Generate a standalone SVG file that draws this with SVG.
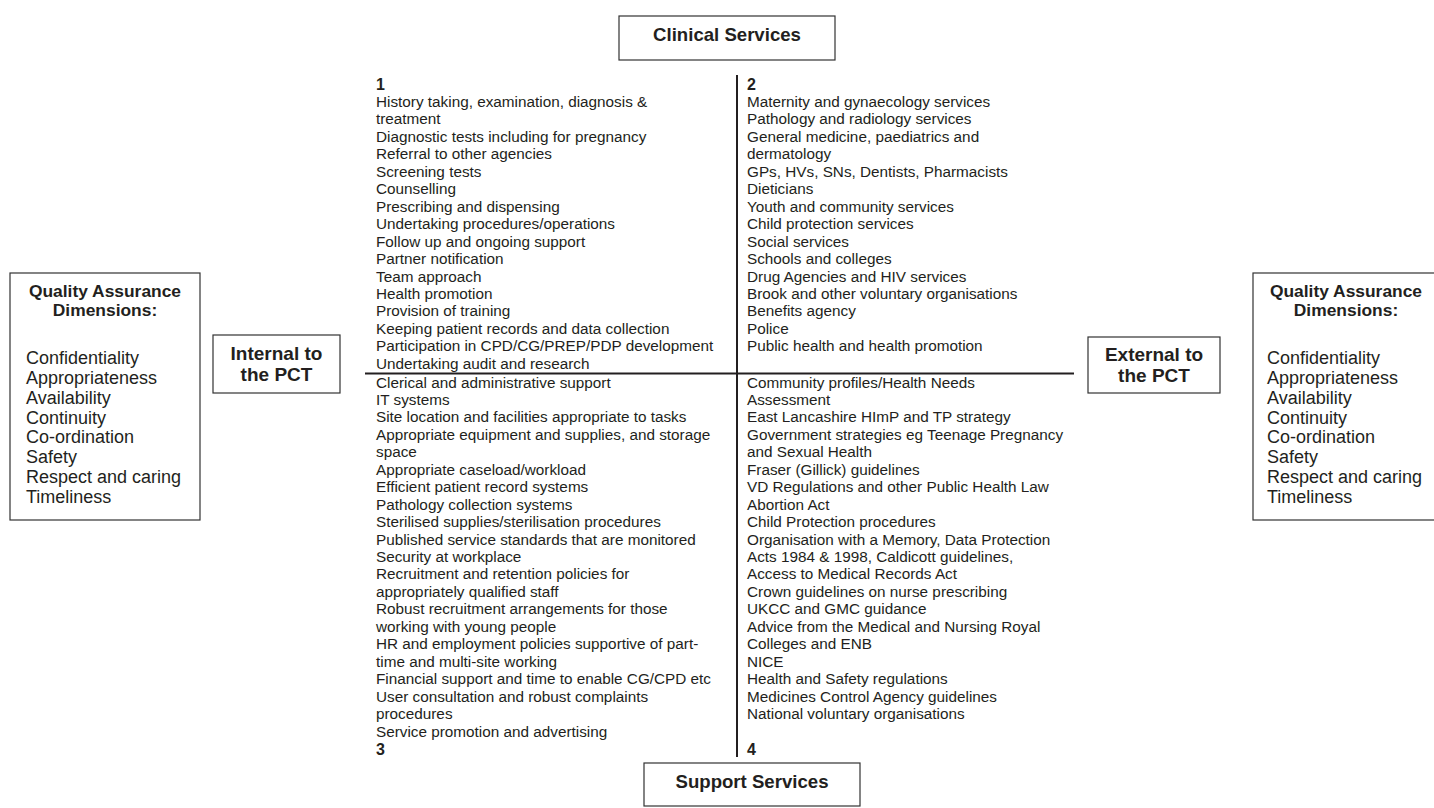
<svg xmlns="http://www.w3.org/2000/svg" width="1434" height="808" viewBox="0 0 1434 808">
<style>
text{font-family:"Liberation Sans",Arial,sans-serif;fill:#231f20}
.box{fill:#fff;stroke:#333;stroke-width:1.2}
.hd{font-weight:bold;font-size:18.6px;text-anchor:middle}
.qh{font-weight:bold;font-size:17.4px;text-anchor:middle}
.qa{font-size:18px}
.lb{font-weight:bold;font-size:19px;text-anchor:middle}
.it{font-size:15.3px}
.num{font-size:16px;font-weight:bold}
.ax{stroke:#231f20;stroke-width:2;fill:none}
</style>
<rect width="1434" height="808" fill="#fff"/>
<g id="connectors">
<line class="ax" x1="737" y1="75" x2="737" y2="757"/>
<line class="ax" x1="365" y1="373.5" x2="1074" y2="373.5"/>
</g>
<g id="clinical">
<rect class="box" x="619" y="16" width="216" height="44"/>
<text class="hd" x="727" y="41">Clinical Services</text>
</g>
<g id="support">
<rect class="box" x="644" y="763" width="216" height="43"/>
<text class="hd" x="752" y="788">Support Services</text>
</g>
<g id="qa-left">
<rect class="box" x="10" y="273" width="190" height="247"/>
<text class="qh" x="105" y="297">Quality Assurance</text>
<text class="qh" x="105" y="316">Dimensions:</text>
<text class="qa" x="26" y="364">Confidentiality</text>
<text class="qa" x="26" y="383.9">Appropriateness</text>
<text class="qa" x="26" y="403.7">Availability</text>
<text class="qa" x="26" y="423.6">Continuity</text>
<text class="qa" x="26" y="443.4">Co-ordination</text>
<text class="qa" x="26" y="463.3">Safety</text>
<text class="qa" x="26" y="483.2">Respect and caring</text>
<text class="qa" x="26" y="503">Timeliness</text>
</g>
<g id="qa-right">
<rect class="box" x="1253" y="273" width="190" height="247"/>
<text class="qh" x="1346" y="297">Quality Assurance</text>
<text class="qh" x="1346" y="316">Dimensions:</text>
<text class="qa" x="1267" y="364">Confidentiality</text>
<text class="qa" x="1267" y="383.9">Appropriateness</text>
<text class="qa" x="1267" y="403.7">Availability</text>
<text class="qa" x="1267" y="423.6">Continuity</text>
<text class="qa" x="1267" y="443.4">Co-ordination</text>
<text class="qa" x="1267" y="463.3">Safety</text>
<text class="qa" x="1267" y="483.2">Respect and caring</text>
<text class="qa" x="1267" y="503">Timeliness</text>
</g>
<g id="internal">
<rect class="box" x="213" y="335" width="127" height="58"/>
<text class="lb" x="276.5" y="360">Internal to</text>
<text class="lb" x="276.5" y="381">the PCT</text>
</g>
<g id="external">
<rect class="box" x="1088" y="337" width="132" height="56"/>
<text class="lb" x="1154" y="361">External to</text>
<text class="lb" x="1154" y="382">the PCT</text>
</g>
<g id="q1">
<text class="num" x="376" y="89.5">1</text>
<text class="it" x="376" y="107">History taking, examination, diagnosis &amp;</text>
<text class="it" x="376" y="124.45">treatment</text>
<text class="it" x="376" y="141.9">Diagnostic tests including for pregnancy</text>
<text class="it" x="376" y="159.35">Referral to other agencies</text>
<text class="it" x="376" y="176.8">Screening tests</text>
<text class="it" x="376" y="194.25">Counselling</text>
<text class="it" x="376" y="211.7">Prescribing and dispensing</text>
<text class="it" x="376" y="229.15">Undertaking procedures/operations</text>
<text class="it" x="376" y="246.6">Follow up and ongoing support</text>
<text class="it" x="376" y="264.05">Partner notification</text>
<text class="it" x="376" y="281.5">Team approach</text>
<text class="it" x="376" y="298.95">Health promotion</text>
<text class="it" x="376" y="316.4">Provision of training</text>
<text class="it" x="376" y="333.85">Keeping patient records and data collection</text>
<text class="it" x="376" y="351.3">Participation in CPD/CG/PREP/PDP development</text>
<text class="it" x="376" y="368.75">Undertaking audit and research</text>
</g>
<g id="q2">
<text class="num" x="747" y="89.5">2</text>
<text class="it" x="747" y="107">Maternity and gynaecology services</text>
<text class="it" x="747" y="124.45">Pathology and radiology services</text>
<text class="it" x="747" y="141.9">General medicine, paediatrics and</text>
<text class="it" x="747" y="159.35">dermatology</text>
<text class="it" x="747" y="176.8">GPs, HVs, SNs, Dentists, Pharmacists</text>
<text class="it" x="747" y="194.25">Dieticians</text>
<text class="it" x="747" y="211.7">Youth and community services</text>
<text class="it" x="747" y="229.15">Child protection services</text>
<text class="it" x="747" y="246.6">Social services</text>
<text class="it" x="747" y="264.05">Schools and colleges</text>
<text class="it" x="747" y="281.5">Drug Agencies and HIV services</text>
<text class="it" x="747" y="298.95">Brook and other voluntary organisations</text>
<text class="it" x="747" y="316.4">Benefits agency</text>
<text class="it" x="747" y="333.85">Police</text>
<text class="it" x="747" y="351.3">Public health and health promotion</text>
</g>
<g id="q3">
<text class="it" x="376" y="387.5">Clerical and administrative support</text>
<text class="it" x="376" y="404.95">IT systems</text>
<text class="it" x="376" y="422.4">Site location and facilities appropriate to tasks</text>
<text class="it" x="376" y="439.85">Appropriate equipment and supplies, and storage</text>
<text class="it" x="376" y="457.3">space</text>
<text class="it" x="376" y="474.75">Appropriate caseload/workload</text>
<text class="it" x="376" y="492.2">Efficient patient record systems</text>
<text class="it" x="376" y="509.65">Pathology collection systems</text>
<text class="it" x="376" y="527.1">Sterilised supplies/sterilisation procedures</text>
<text class="it" x="376" y="544.55">Published service standards that are monitored</text>
<text class="it" x="376" y="562">Security at workplace</text>
<text class="it" x="376" y="579.45">Recruitment and retention policies for</text>
<text class="it" x="376" y="596.9">appropriately qualified staff</text>
<text class="it" x="376" y="614.35">Robust recruitment arrangements for those</text>
<text class="it" x="376" y="631.8">working with young people</text>
<text class="it" x="376" y="649.25">HR and employment policies supportive of part-</text>
<text class="it" x="376" y="666.7">time and multi-site working</text>
<text class="it" x="376" y="684.15">Financial support and time to enable CG/CPD etc</text>
<text class="it" x="376" y="701.6">User consultation and robust complaints</text>
<text class="it" x="376" y="719.05">procedures</text>
<text class="it" x="376" y="736.5">Service promotion and advertising</text>
<text class="num" x="376" y="754.5">3</text>
</g>
<g id="q4">
<text class="it" x="747" y="387.5">Community profiles/Health Needs</text>
<text class="it" x="747" y="404.95">Assessment</text>
<text class="it" x="747" y="422.4">East Lancashire HImP and TP strategy</text>
<text class="it" x="747" y="439.85">Government strategies eg Teenage Pregnancy</text>
<text class="it" x="747" y="457.3">and Sexual Health</text>
<text class="it" x="747" y="474.75">Fraser (Gillick) guidelines</text>
<text class="it" x="747" y="492.2">VD Regulations and other Public Health Law</text>
<text class="it" x="747" y="509.65">Abortion Act</text>
<text class="it" x="747" y="527.1">Child Protection procedures</text>
<text class="it" x="747" y="544.55">Organisation with a Memory, Data Protection</text>
<text class="it" x="747" y="562">Acts 1984 &amp; 1998, Caldicott guidelines,</text>
<text class="it" x="747" y="579.45">Access to Medical Records Act</text>
<text class="it" x="747" y="596.9">Crown guidelines on nurse prescribing</text>
<text class="it" x="747" y="614.35">UKCC and GMC guidance</text>
<text class="it" x="747" y="631.8">Advice from the Medical and Nursing Royal</text>
<text class="it" x="747" y="649.25">Colleges and ENB</text>
<text class="it" x="747" y="666.7">NICE</text>
<text class="it" x="747" y="684.15">Health and Safety regulations</text>
<text class="it" x="747" y="701.6">Medicines Control Agency guidelines</text>
<text class="it" x="747" y="719.05">National voluntary organisations</text>
<text class="num" x="747" y="754.5">4</text>
</g>
</svg>
